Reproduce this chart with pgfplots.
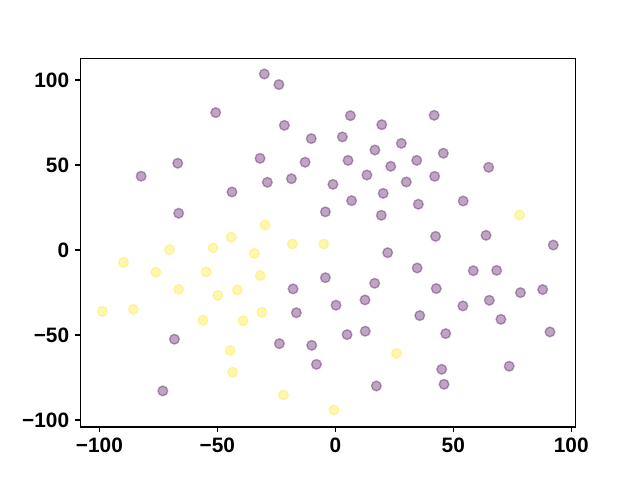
\documentclass[border=0pt]{standalone}
\usepackage{fontspec}
\setmainfont{Liberation Sans}
\usepackage{pgfplots}
\pgfplotsset{compat=1.18}

\definecolor{vpurple}{HTML}{440154}
\definecolor{vyellow}{HTML}{FDE725}

\begin{document}
\begin{tikzpicture}
% canvas of the 640x480 figure (1px = 0.72pt)
\path (-57.8pt,-38.2pt) rectangle (403.0pt,307.4pt);
\begin{axis}[
    at={(0,0)}, anchor=south west,
    scale only axis,
    width=356.7pt, height=265.5pt,
    xmin=-108.1, xmax=101.9,
    ymin=-104.1, ymax=112.8,
    xtick={-100,-50,0,50,100},
    xticklabels={−100,−50,0,50,100},
    ytick={-100,-50,0,50,100},
    yticklabels={−100,−50,0,50,100},
    tick align=outside,
    xtick pos=bottom, ytick pos=left,
    major tick length=3.5pt,
    tick style={line width=0.8pt, black},
    axis line style={line width=0.8pt},
    ticklabel style={font=\fontsize{15}{18}\selectfont\bfseries},
    xticklabel style={yshift=-1pt},
    yticklabel style={xshift=-1pt},
    /pgf/number format/assume math mode=true,
]
\addplot[only marks, mark=*, mark size=3.5pt,
    mark options={line width=1pt, draw=vpurple, fill=vpurple, opacity=0.35}]
coordinates {
(-50.7,80.8) (-66.8,51.0) (-82.3,43.4) (-43.8,34.1) (-66.4,21.6)
(-30.1,103.5) (-23.9,97.3) (6.4,79.0) (19.7,73.7) (-21.6,73.3)
(-10.2,65.5) (3.0,66.5) (28.0,62.7) (16.8,58.8) (-31.9,53.9)
(-12.8,51.6) (5.4,52.7) (34.5,52.7) (23.5,49.2) (13.4,44.1)
(-28.8,39.8) (-18.6,41.9) (-1.0,38.6) (30.1,40.0) (20.3,33.3)
(6.9,29.0) (35.2,26.9) (-4.2,22.4) (19.5,20.4)
(41.9,79.2) (45.8,56.9) (65.0,48.6) (42.1,43.3) (54.2,28.8)
(42.5,8.0) (63.9,8.6) (92.4,2.9)
(-68.2,-52.5) (-73.1,-82.9)
(22.2,-1.6) (34.7,-10.6) (-4.2,-16.3) (16.7,-19.6) (-17.9,-22.9)
(12.6,-29.4) (0.3,-32.5) (-16.5,-36.9) (5.0,-49.8) (12.7,-47.8)
(-23.7,-55.1) (-10.0,-56.1) (-8.0,-67.3) (17.4,-80.0)
(58.5,-12.2) (68.4,-12.0) (42.8,-22.7) (78.5,-25.1) (87.9,-23.3)
(65.3,-29.6) (54.1,-32.9) (35.8,-38.6) (70.2,-40.8) (46.8,-49.2)
(91.0,-48.2) (45.1,-70.2) (73.7,-68.4) (46.1,-79.0)
};
\addplot[only marks, mark=*, mark size=3.5pt,
    mark options={line width=1pt, draw=vyellow, fill=vyellow, opacity=0.35}]
coordinates {
(-44.1,7.5) (-29.8,14.7) (-18.2,3.5) (-4.9,3.5) (78.1,20.6)
(-70.3,0.2) (-51.8,1.2) (-89.8,-7.3) (-76.1,-13.1) (-54.7,-12.9)
(-66.4,-23.1) (-49.8,-26.7) (-41.5,-23.5) (-98.7,-36.1) (-85.6,-34.9)
(-56.1,-41.4) (-39.1,-41.6) (-44.5,-59.2) (-43.5,-71.9)
(-34.3,-2.0) (-31.8,-15.1) (-31.1,-36.7) (25.9,-60.8)
(-22.0,-85.3) (-0.6,-94.1)
};
\end{axis}
\end{tikzpicture}
\end{document}
